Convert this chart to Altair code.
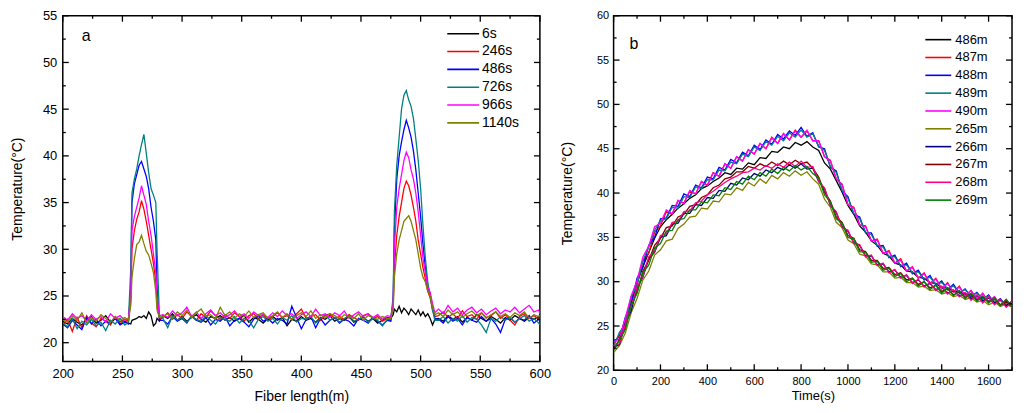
import altair as alt
import pandas as pd

# ---- panel a: temperature along the fibre at six times ----
FIBER_M = [
    200, 204, 208, 212, 216, 220, 224, 228, 232, 236, 240, 244, 248, 252,
    255, 257, 258, 260, 262, 264, 266, 268, 270, 272, 274, 276, 278, 279, 281,
    284, 288, 292, 296, 300, 304, 308, 312, 316, 320, 324, 328, 332, 336, 340, 344,
    348, 352, 356, 360, 364, 368, 372, 376, 380, 384, 388, 392, 396, 400, 404, 408,
    412, 416, 420, 424, 428, 432, 436, 440, 444, 448, 452, 456, 460, 464, 468, 472,
    475, 477, 478, 480, 482, 484, 486, 488, 490, 492, 494, 496, 498, 500, 502, 504,
    506, 508, 510, 512,
    515, 519, 523, 527, 531, 535, 539, 543, 547, 551, 555, 559, 563, 567, 571, 575,
    579, 583, 587, 591, 595, 599, 600,
]

T_6S = [
    22.3, 22.0, 22.6, 22.2, 21.9, 22.5, 22.8, 22.1, 22.4, 22.9, 22.2, 22.6, 22.0, 22.3,
    22.1, 22.0, 22.4, 22.5, 22.6, 22.8, 22.7, 22.9, 22.6, 23.3, 22.9, 21.8, 22.1, 22.6, 22.3,
    22.9, 22.6, 23.1, 22.4, 22.8, 22.3, 22.7, 23.0, 22.5, 22.2, 22.8, 22.6, 22.9, 22.4, 22.7, 22.3,
    22.6, 22.9, 22.2, 22.7, 22.5, 22.1, 22.6, 22.8, 22.4, 22.7, 21.8, 22.5, 22.3, 22.8, 22.4, 22.6,
    22.2, 22.7, 22.5, 22.9, 22.3, 22.6, 22.4, 22.8, 22.2, 22.5, 22.7, 22.3, 22.6, 22.1, 22.4, 22.7,
    22.6, 23.0, 23.6, 23.3, 23.9, 23.2, 23.7, 23.4, 23.0, 23.6, 23.3, 23.0, 23.5, 22.9, 23.3, 22.8,
    23.1, 22.6, 21.9, 22.5,
    22.6, 22.3, 22.9, 22.5, 22.8, 22.2, 22.7, 22.4, 23.0, 22.6, 22.3, 22.8, 22.5, 22.1, 22.7, 22.4,
    22.9, 22.6, 22.3, 22.7, 22.5, 22.8, 22.4,
]
T_246S = [
    21.8, 22.5, 21.2, 22.7, 21.6, 22.9, 22.1, 21.7, 22.6, 22.3, 21.9, 22.8, 22.2, 22.5,
    22.3, 24.5, 30.0, 32.0, 33.2, 34.0, 35.2, 34.3, 33.0, 31.5, 30.0, 28.5, 26.5, 24.0, 22.6,
    22.7, 23.2, 22.5, 23.0, 22.6, 23.3, 22.8, 22.4, 23.1, 22.7, 23.4, 22.9, 22.5, 23.0, 22.6, 23.2,
    22.8, 22.3, 22.9, 23.1, 22.6, 23.0, 22.4, 22.8, 23.2, 22.7, 22.9, 22.5, 23.1, 23.6, 22.6, 22.8,
    23.0, 22.4, 22.9, 23.1, 22.6, 22.8, 22.5, 23.0, 22.7, 22.4, 22.9, 23.1, 22.6, 22.8, 22.3, 22.6,
    22.4, 24.0, 28.0, 31.5, 33.5, 35.0, 36.5, 37.3, 36.8, 35.8, 34.5, 33.0, 31.0, 29.5, 28.0, 26.8,
    25.5, 24.8, 23.5, 22.8,
    22.9, 23.3, 22.7, 23.1, 22.6, 23.4, 22.8, 23.0, 22.5, 23.2, 22.7, 22.9, 23.3, 22.6, 23.0, 22.4,
    21.9, 22.8, 23.1, 22.6, 22.9, 22.5, 22.7,
]
T_486S = [
    22.0, 21.6, 22.4, 21.9, 21.4, 22.7, 22.0, 22.5, 21.8, 22.3, 22.1, 22.6, 21.9, 22.2,
    22.0, 26.0, 35.0, 37.0, 38.0, 39.0, 39.4, 38.6, 37.8, 36.5, 34.5, 33.0, 31.0, 26.0, 22.4,
    22.4, 22.0, 22.8, 22.3, 22.6, 22.1, 22.9, 22.4, 22.2, 22.7, 21.9, 22.5, 22.3, 22.8, 21.8, 22.4,
    22.6, 22.2, 21.7, 22.5, 22.9, 22.3, 22.6, 22.1, 22.6, 22.4, 22.0, 23.9, 22.7, 21.5, 22.5, 22.8,
    21.6, 22.6, 21.9, 22.4, 22.7, 22.1, 22.5, 22.3, 21.8, 22.6, 22.4, 22.1, 22.7, 22.3, 21.9, 22.4,
    22.3, 24.5, 32.0, 37.5, 40.0, 41.5, 42.8, 43.8, 43.0, 42.0, 40.5, 38.5, 36.0, 33.5, 30.5, 28.0,
    26.0, 25.2, 23.8, 22.6,
    22.5, 22.1, 22.8, 22.3, 22.6, 21.9, 22.7, 22.4, 22.2, 22.8, 22.3, 22.6, 22.0, 21.1, 22.5, 22.7,
    22.2, 22.6, 22.4, 22.9, 22.1, 22.5, 22.3,
]
T_726S = [
    22.1, 21.7, 22.6, 21.5, 22.3, 21.9, 22.5, 21.8, 22.2, 21.3, 22.4, 22.0, 22.6, 21.9,
    22.2, 28.0, 36.0, 37.5, 38.6, 40.0, 41.2, 42.3, 40.3, 38.2, 36.5, 35.8, 35.0, 30.0, 22.8,
    22.6, 21.6, 22.9, 22.4, 22.7, 22.2, 22.8, 22.5, 22.3, 22.9, 22.4, 22.0, 22.7, 22.5, 22.3, 22.8,
    22.1, 22.6, 22.4, 21.6, 22.5, 22.8, 22.3, 22.6, 22.0, 22.7, 22.4, 22.9, 22.2, 22.6, 22.5, 22.8,
    22.1, 22.6, 23.0, 22.4, 22.7, 22.2, 22.6, 22.9, 22.3, 22.5, 22.8, 22.2, 22.6, 22.4, 21.8, 22.5,
    22.5, 25.0, 34.0, 39.0, 42.0, 45.0, 46.5, 47.0, 46.0, 45.3, 44.0, 41.8, 39.5, 36.5, 32.5, 29.0,
    26.5, 25.0, 23.5, 22.4,
    22.4, 22.8, 22.1, 22.6, 22.3, 22.9, 22.2, 22.7, 22.5, 21.9, 21.1, 22.6, 22.3, 22.8, 22.4, 22.7,
    22.2, 22.6, 22.9, 22.3, 22.6, 22.1, 21.9,
]
T_966S = [
    22.8, 22.4, 23.1, 22.6, 22.9, 22.3, 23.0, 22.5, 22.8, 22.2, 23.1, 22.6, 22.9, 22.4,
    22.6, 25.0, 32.0, 33.5, 34.5, 35.5, 36.8, 35.8, 34.8, 33.0, 31.5, 29.5, 27.5, 25.0, 22.9,
    23.0, 22.7, 23.4, 22.9, 23.2, 23.8, 22.8, 23.3, 22.6, 23.1, 23.5, 22.9, 23.2, 22.7, 23.0, 23.4,
    22.8, 23.1, 22.6, 23.3, 22.9, 23.0, 22.7, 23.2, 22.8, 23.4, 22.9, 23.1, 22.6, 23.0, 23.3, 22.8,
    23.6, 22.9, 23.1, 22.7, 23.2, 22.9, 23.4, 22.6, 23.0, 23.3, 22.8, 23.1, 22.7, 23.0, 22.5, 22.9,
    22.8, 24.2, 30.0, 34.5, 36.5, 38.0, 39.5, 40.4, 39.8, 38.5, 37.5, 36.0, 34.0, 31.5, 29.0, 27.5,
    26.0, 25.4, 24.2, 23.2,
    23.6, 23.1, 24.0, 23.3, 23.7, 23.0, 23.5, 23.8, 23.2, 23.6, 23.0, 23.4, 23.7, 23.1, 23.5, 23.3,
    23.8, 23.2, 23.6, 24.0, 23.3, 23.5, 23.1,
]
T_1140S = [
    22.5, 22.2, 22.9, 22.4, 23.2, 22.1, 22.7, 22.3, 23.0, 22.6, 22.2, 22.8, 22.4, 22.7,
    22.4, 24.0, 27.0, 29.0, 30.5, 30.8, 31.5, 30.6, 29.8, 29.4, 28.5, 27.5, 25.5, 23.5, 22.7,
    22.8, 23.1, 22.6, 23.3, 22.9, 23.5, 22.7, 23.2, 23.6, 22.8, 23.0, 22.5, 23.8, 22.9, 23.3, 22.6,
    23.1, 22.8, 23.4, 22.7, 23.0, 23.2, 22.6, 22.9, 23.3, 22.7, 23.1, 22.5, 22.9, 23.2, 22.8, 23.4,
    22.6, 23.0, 22.7, 23.1, 22.9, 22.5, 23.0, 22.8, 22.6, 23.1, 22.4, 22.9, 22.7, 22.5, 22.8, 22.6,
    22.6, 23.5, 27.0, 29.5, 31.0, 32.0, 33.0, 33.3, 33.6, 33.0, 32.0, 31.0, 29.5, 28.0, 27.0, 26.5,
    25.5, 25.0, 23.8, 23.0,
    23.2, 22.8, 23.5, 23.0, 23.3, 22.7, 23.1, 23.4, 22.9, 23.2, 22.6, 23.0, 23.3, 22.8, 23.1, 22.7,
    23.2, 22.9, 23.3, 22.6, 23.0, 22.8, 22.9,
]

TIMES_A = ["6s", "246s", "486s", "726s", "966s", "1140s"]
SERIES_A = [T_6S, T_246S, T_486S, T_726S, T_966S, T_1140S]
COLORS_A = ["#000000", "#ff0000", "#0000ff", "#008080", "#ff00ff", "#808000"]

# ---- panel b: temperature over time at ten positions ----
TIME_S = [
    0, 25, 50, 75, 100, 125, 150, 175, 200, 225, 250, 275, 300, 325, 350, 375, 400,
    425, 450, 475, 500, 525, 550, 575, 600, 625, 650, 675, 700, 725, 750, 775, 800,
    825, 850, 875, 900, 925, 950, 975, 1000, 1025, 1050, 1075, 1100, 1125, 1150, 1175,
    1200, 1225, 1250, 1275, 1300, 1325, 1350, 1375, 1400, 1425, 1450, 1475, 1500,
    1525, 1550, 1575, 1600, 1625, 1650, 1675, 1700,
]

P_486 = [
    23.1, 23.9, 25.4, 27.6, 29.8, 31.7, 33.3, 34.9, 36.2, 37.0, 37.6, 38.3, 38.8, 39.4, 39.8, 40.5, 40.8,
    41.3, 41.7, 42.3, 42.1, 42.8, 42.7, 43.4, 43.2, 44.0, 43.9, 44.7, 44.6, 45.2, 45.0, 45.7, 45.4,
    45.8, 45.2, 44.8, 43.4, 42.7, 41.4, 40.1, 38.6, 37.6, 36.3, 35.6, 34.6, 34.1, 33.2, 32.9,
    32.1, 31.9, 31.2, 31.1, 30.5, 30.4, 29.9, 29.8, 29.3, 29.3, 28.9, 28.9, 28.5,
    28.5, 28.1, 28.2, 27.8, 27.8, 27.4, 27.5, 27.2,
]
P_487 = [
    22.8, 24.1, 25.3, 28.2, 29.7, 32.3, 33.2, 35.6, 36.3, 37.9, 37.6, 39.1, 38.9, 40.2, 39.9, 41.3, 40.9,
    42.3, 41.9, 43.3, 42.8, 44.1, 43.6, 44.9, 44.4, 45.6, 45.0, 46.3, 45.6, 46.7, 46.0, 47.1, 46.3,
    47.0, 45.9, 45.9, 44.1, 43.7, 41.6, 41.0, 38.7, 38.4, 36.4, 36.3, 34.6, 34.8, 33.2, 33.5,
    32.1, 32.6, 31.2, 31.7, 30.4, 31.0, 29.8, 30.4, 29.2, 29.9, 28.8, 29.5, 28.4,
    29.0, 28.0, 28.7, 27.7, 28.3, 27.3, 28.0, 27.1,
]
P_488 = [
    23.4, 23.5, 26.0, 27.5, 30.4, 31.6, 34.1, 35.0, 37.1, 37.2, 38.6, 38.5, 39.9, 39.6, 40.9, 40.6, 41.8,
    41.6, 42.9, 42.6, 43.8, 43.4, 44.6, 44.2, 45.4, 44.9, 46.0, 45.5, 46.6, 46.1, 47.0, 46.5, 47.4,
    46.4, 46.8, 45.2, 45.0, 42.9, 42.5, 40.2, 39.6, 37.6, 37.3, 35.5, 35.5, 34.0, 34.1, 32.7,
    33.0, 31.7, 32.1, 30.9, 31.3, 30.2, 30.7, 29.6, 30.1, 29.1, 29.7, 28.7, 29.2,
    28.3, 28.8, 28.0, 28.5, 27.6, 28.1, 27.3, 27.8,
]
P_489 = [
    22.7, 24.3, 25.2, 28.3, 29.6, 32.4, 33.9, 35.8, 36.9, 37.1, 38.4, 38.3, 39.6, 39.5, 40.7, 40.5, 41.5,
    41.5, 42.6, 42.5, 43.5, 43.3, 44.4, 44.1, 45.2, 44.8, 45.8, 45.4, 46.4, 45.9, 46.8, 46.3, 47.1,
    46.3, 46.7, 45.3, 44.8, 43.0, 42.3, 40.3, 39.4, 37.7, 37.1, 35.6, 35.3, 34.1, 33.9, 32.8,
    32.8, 31.8, 31.9, 31.0, 31.1, 30.3, 30.5, 29.7, 29.9, 29.2, 29.5, 28.8, 29.1,
    28.4, 28.7, 28.1, 28.4, 27.7, 28.0, 27.4, 27.8,
]
P_490 = [
    23.2, 23.6, 25.9, 28.4, 30.1, 32.8, 34.0, 36.2, 36.6, 38.1, 37.7, 39.2, 38.8, 40.3, 39.9, 41.3, 40.8,
    42.3, 41.9, 43.3, 42.8, 44.1, 43.6, 44.9, 44.4, 45.6, 45.0, 46.2, 45.6, 46.7, 46.0, 47.0, 46.3,
    47.1, 45.9, 45.9, 44.1, 43.6, 41.6, 40.9, 38.7, 38.3, 36.4, 36.2, 34.6, 34.7, 33.2, 33.4,
    32.1, 32.4, 31.2, 31.6, 30.4, 30.9, 29.8, 30.3, 29.2, 29.8, 28.8, 29.4, 28.4,
    29.0, 28.0, 28.7, 27.7, 28.3, 27.3, 28.0, 27.1,
]
P_265 = [
    22.0, 22.8, 24.2, 26.5, 28.1, 30.2, 31.2, 33.0, 33.6, 34.6, 34.8, 36.0, 36.5, 37.3, 37.4, 38.3, 38.2,
    39.1, 39.0, 39.9, 39.8, 40.6, 40.3, 41.2, 40.8, 41.6, 41.1, 42.0, 41.6, 42.3, 41.9, 42.5, 42.0,
    42.4, 41.6, 41.0, 39.3, 38.4, 36.7, 36.1, 34.7, 34.3, 33.1, 32.9, 32.0, 31.9, 31.1, 31.1,
    30.4, 30.5, 29.9, 29.9, 29.4, 29.5, 29.0, 29.1, 28.6, 28.8, 28.3, 28.5, 28.0,
    28.2, 27.7, 27.9, 27.4, 27.7, 27.2, 27.5, 27.1,
]
P_266 = [
    22.6, 22.9, 25.3, 26.7, 29.3, 30.5, 32.6, 33.3, 35.0, 35.2, 36.5, 36.6, 37.7, 37.7, 38.7, 38.6, 39.5,
    39.4, 40.3, 40.2, 41.1, 40.9, 41.7, 41.5, 42.2, 41.9, 42.6, 42.3, 42.9, 42.6, 43.2, 42.8, 43.3,
    42.7, 42.8, 41.3, 40.5, 38.6, 37.8, 36.2, 35.7, 34.4, 34.1, 32.9, 32.9, 31.9, 32.0, 31.1,
    31.3, 30.5, 30.7, 29.9, 30.2, 29.5, 29.8, 29.1, 29.4, 28.7, 29.0, 28.4, 28.7,
    28.1, 28.4, 27.8, 28.2, 27.6, 27.9, 27.3, 27.7,
]
P_267 = [
    22.4, 23.5, 24.8, 27.4, 28.8, 31.2, 32.4, 34.1, 34.9, 36.1, 36.3, 37.3, 37.6, 38.5, 38.7, 39.5, 39.8,
    40.6, 40.9, 41.6, 41.8, 42.4, 42.4, 43.0, 42.8, 43.3, 43.0, 43.5, 43.1, 43.6, 43.2, 43.7, 43.3,
    43.5, 42.8, 41.8, 40.1, 39.1, 37.3, 36.7, 35.2, 34.9, 33.6, 33.4, 32.4, 32.4, 31.5, 31.6,
    30.8, 31.0, 30.2, 30.4, 29.7, 30.0, 29.3, 29.6, 28.9, 29.2, 28.5, 28.9, 28.2,
    28.6, 27.9, 28.3, 27.7, 28.1, 27.4, 27.8, 27.2,
]
P_268 = [
    22.8, 23.0, 25.2, 27.2, 29.4, 30.6, 32.8, 33.4, 35.2, 35.4, 36.7, 36.8, 37.9, 38.0, 38.9, 39.1, 39.8,
    40.2, 40.7, 41.2, 41.6, 41.9, 42.3, 42.4, 42.8, 42.6, 43.1, 42.8, 43.3, 42.9, 43.5, 43.0, 43.6,
    42.9, 43.0, 41.3, 40.6, 38.6, 37.9, 36.1, 35.8, 34.3, 34.2, 32.8, 33.0, 31.8, 32.1, 31.0,
    31.4, 30.4, 30.8, 29.8, 30.3, 29.4, 29.9, 29.0, 29.5, 28.6, 29.1, 28.3, 28.8,
    27.9, 28.5, 27.6, 28.3, 27.4, 28.0, 27.1, 27.7,
]
P_269 = [
    22.3, 23.4, 24.6, 27.3, 28.7, 31.0, 31.9, 33.8, 34.3, 35.7, 35.8, 37.0, 37.1, 38.1, 38.1, 39.0, 38.9,
    39.8, 39.7, 40.6, 40.4, 41.3, 41.0, 41.9, 41.5, 42.3, 41.9, 42.7, 42.2, 42.9, 42.5, 43.1, 42.6,
    43.0, 42.2, 41.7, 39.8, 39.0, 37.1, 36.6, 35.0, 34.8, 33.4, 33.3, 32.2, 32.3, 31.3, 31.5,
    30.6, 30.9, 30.0, 30.4, 29.5, 30.0, 29.1, 29.6, 28.7, 29.3, 28.4, 29.0, 28.1,
    28.7, 27.8, 28.4, 27.6, 28.2, 27.3, 28.0, 27.2,
]

POSITIONS_B = ["486m", "487m", "488m", "489m", "490m", "265m", "266m", "267m", "268m", "269m"]
SERIES_B = [P_486, P_487, P_488, P_489, P_490, P_265, P_266, P_267, P_268, P_269]
COLORS_B = ["#000000", "#ff0000", "#0000ff", "#008080", "#ff00ff",
            "#808000", "#000080", "#800000", "#ff0080", "#008000"]

# axis ticks
A_X_MAJOR = [200, 250, 300, 350, 400, 450, 500, 550, 600]
A_X_MINOR = [225, 275, 325, 375, 425, 475, 525, 575]
A_Y_MAJOR = [20, 25, 30, 35, 40, 45, 50, 55]
A_Y_MINOR = [22.5, 27.5, 32.5, 37.5, 42.5, 47.5, 52.5]
B_X_MAJOR = [0, 200, 400, 600, 800, 1000, 1200, 1400, 1600]
B_X_MINOR = [100, 300, 500, 700, 900, 1100, 1300, 1500, 1700]
B_Y_MAJOR = [20, 25, 30, 35, 40, 45, 50, 55, 60]
B_Y_MINOR = [22.5, 27.5, 32.5, 37.5, 42.5, 47.5, 52.5, 57.5]

FONT = "Liberation Sans"


def long_table(xs, names, series):
    rows = []
    for name, ys in zip(names, series):
        rows.append(pd.DataFrame({"x": xs, "y": ys, "s": name}))
    return pd.concat(rows, ignore_index=True)


def tick_table(x_dom, y_dom, ticks, w, h):
    # inward tick segments (two points each) on every side; lengths given in pixels
    x_major, x_minor, y_major, y_minor = ticks
    ux = (x_dom[1] - x_dom[0]) / w
    uy = (y_dom[1] - y_dom[0]) / h
    rows = []
    k = 0
    for values, size in ((x_major, 6), (x_minor, 3)):
        for v in values:
            rows += [(k, 0, v, y_dom[0]), (k, 1, v, y_dom[0] + size * uy)]
            rows += [(k + 1, 0, v, y_dom[1]), (k + 1, 1, v, y_dom[1] - size * uy)]
            k += 2
    for values, size in ((y_major, 6), (y_minor, 3)):
        for v in values:
            rows += [(k, 0, x_dom[0], v), (k, 1, x_dom[0] + size * ux, v)]
            rows += [(k + 1, 0, x_dom[1], v), (k + 1, 1, x_dom[1] - size * ux, v)]
            k += 2
    return pd.DataFrame(rows, columns=["tick", "end", "x", "y"])


def panel(df, names, colors, x_title, x_dom, y_dom, ticks, w, h, lab, leg_lab, row_pad,
          legend_x, legend_y, sym_path, sym_off, letter, letter_xy, pads, x_title_size):
    x_major, x_minor, y_major, y_minor = ticks
    xs = alt.Scale(domain=x_dom, nice=False, zero=False)
    ys = alt.Scale(domain=y_dom, nice=False, zero=False)

    def ax(values, title, tsize, lpad, tpad):
        return alt.Axis(values=values, ticks=False, domain=False, grid=False,
                        labelFlush=False, format="d", labelPadding=lpad,
                        labelFont=FONT, labelFontSize=lab, labelColor="black",
                        title=title, titlePadding=tpad, titleFont=FONT,
                        titleFontSize=tsize, titleColor="black", titleFontWeight="normal")

    x_axis = ax(x_major, x_title, x_title_size, pads[0], pads[1])
    y_axis = ax(y_major, "Temperature(°C)", 14, pads[2], pads[3])

    lines = alt.Chart(df).mark_line(strokeWidth=1.3, clip=True).encode(
        x=alt.X("x:Q", scale=xs, axis=x_axis),
        y=alt.Y("y:Q", scale=ys, axis=y_axis),
        color=alt.Color("s:N", sort=names,
                        scale=alt.Scale(domain=names, range=colors),
                        legend=alt.Legend(orient="none", legendX=legend_x, legendY=legend_y,
                                          title=None, symbolType=sym_path, symbolSize=256,
                                          symbolStrokeWidth=1.6, labelFont=FONT,
                                          labelFontSize=leg_lab, labelColor="black",
                                          labelOffset=sym_off, rowPadding=row_pad, padding=0)),
    )

    tick_marks = alt.Chart(tick_table(x_dom, y_dom, ticks, w, h)).mark_line(
        color="black", strokeWidth=1.3
    ).encode(
        x=alt.X("x:Q", scale=xs, axis=x_axis),
        y=alt.Y("y:Q", scale=ys, axis=y_axis),
        detail="tick:N",
        order="end:Q",
    )

    tag = alt.Chart(pd.DataFrame({"t": [letter]})).mark_text(
        font=FONT, fontSize=16, color="black", align="left", baseline="middle"
    ).encode(text="t:N", x=alt.value(letter_xy[0]), y=alt.value(letter_xy[1]))

    return alt.layer(lines, tick_marks, tag).properties(width=w, height=h)


df_a = long_table(FIBER_M, TIMES_A, SERIES_A)
df_b = long_table(TIME_S, POSITIONS_B, SERIES_B)

left = panel(df_a, TIMES_A, COLORS_A, "Fiber length(m)", [200, 600], [18, 55],
             (A_X_MAJOR, A_X_MINOR, A_Y_MAJOR, A_Y_MINOR), 479, 347,
             13, 14, 1.9, 401, 9, "M-3,0H1", 2, "a", (19, 20), (6, 9, 6, 18), 14)
right = panel(df_b, POSITIONS_B, COLORS_B, "Time(s)", [0, 1700], [20, 60],
              (B_X_MAJOR, B_X_MINOR, B_Y_MAJOR, B_Y_MINOR), 400, 356,
              11, 13, 1.9, 324, 15, "M-2.5,0H0.75", 1, "b", (16, 28), (5, 3, 5, 22), 13)

chart = alt.hconcat(left, right, spacing=8).resolve_scale(color="independent").properties(
    padding={"left": 1, "top": 0, "right": 0, "bottom": 0}
).configure_view(stroke="black", strokeWidth=1.5)

chart.save("out.html", embed_options={"renderer": "svg", "actions": False})
